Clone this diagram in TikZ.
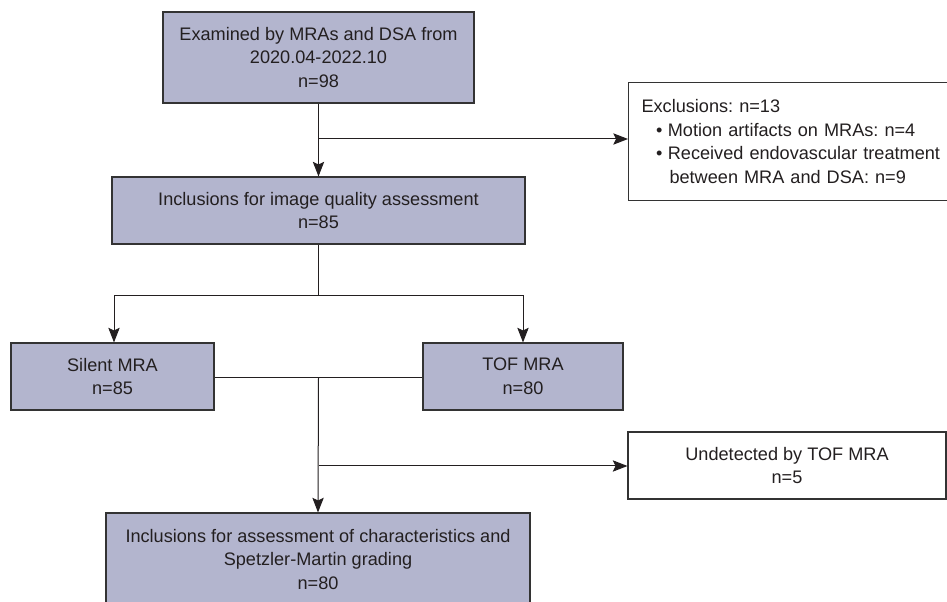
\documentclass[tikz,border=0pt]{standalone}
\usepackage{fontspec}
\setmainfont{Liberation Sans}
\usepackage{xcolor}
\usetikzlibrary{positioning,calc,arrows.meta}

\definecolor{boxfill}{HTML}{B3B5CE}
\definecolor{boxline}{HTML}{333333}
\definecolor{inkgray}{HTML}{231F20}

\tikzset{
    flowbox/.style={draw=boxline, fill=boxfill, line width=0.8pt, inner sep=0pt, align=center, text=inkgray},
    sidebox/.style={draw=boxline, fill=white, line width=0.8pt, inner sep=0pt, text=inkgray},
    link/.style={draw=inkgray, line width=0.75pt},
    arr/.style={link, -{Stealth[length=11pt, width=8.5pt, inset=2pt]}}
}
\frenchspacing

\begin{document}
\begin{tikzpicture}[x=0.75pt, y=-0.75pt, font=\fontsize{13.6pt}{17.8pt}\selectfont]
    \useasboundingbox (0,0) rectangle (947,602);
    \clip (0,0) rectangle (947,602);

    % main column
    \node [flowbox, minimum width=311*0.75pt, minimum height=91*0.75pt] (exam) at (318.5,57.5)
        {Examined by MRAs and DSA from\\2020.04-2022.10\\n=98};
    \node [flowbox, minimum width=413*0.75pt, minimum height=67*0.75pt] (quality) at (318.5,210.5)
        {Inclusions for image quality assessment\\n=85};

    % the two sequences
    \node [flowbox, minimum width=203*0.75pt, minimum height=67*0.75pt] (silent) at (112.5,376.5)
        {Silent MRA\\n=85};
    \node [flowbox, minimum width=200*0.75pt, minimum height=67*0.75pt] (tof) at (523,376.5)
        {TOF MRA\\n=80};

    \node [flowbox, minimum width=424*0.75pt, minimum height=93*0.75pt] (grading) at (318,559.5)
        {Inclusions for assessment of characteristics and\\Spetzler-Martin grading\\n=80};

    % side boxes
    \node [sidebox, anchor=north west, minimum width=340*0.75pt, minimum height=118*0.75pt,
           text width=318*0.75pt, align=left, inner xsep=13*0.75pt] (excl) at (628,82)
        {Exclusions: n=13\\
         \hspace*{11pt}\textbullet\hspace{4pt}Motion artifacts on MRAs: n=4\\
         \hspace*{11pt}\textbullet\hspace{4pt}Received endovascular treatment\\
         \hspace*{21pt}between MRA and DSA: n=9};
    \node [sidebox, align=center, minimum width=318*0.75pt, minimum height=67*0.75pt] (undet) at (787,465.5)
        {Undetected by TOF MRA\\n=5};

    % junctions
    \coordinate (j1) at (318.5,139);
    \coordinate (split) at (318.5,296);
    \coordinate (merge) at (318.5,378);
    \coordinate (j2) at (318.5,466);

    % connectors
    \draw [arr] (exam.south) -- (quality.north);
    \draw [arr] (j1) -- (j1 -| excl.west);
    \draw [link] (quality.south) -- (split);
    \draw [arr] (split) -| ([xshift=1.5*0.75pt]silent.north);
    \draw [arr] (split) -| (tof.north);
    \draw [link] (silent.east |- merge) -- (tof.west |- merge);
    \draw [arr] (merge) -- (grading.north);
    \draw [arr] (j2) -- (j2 -| undet.west);
\end{tikzpicture}
\end{document}
